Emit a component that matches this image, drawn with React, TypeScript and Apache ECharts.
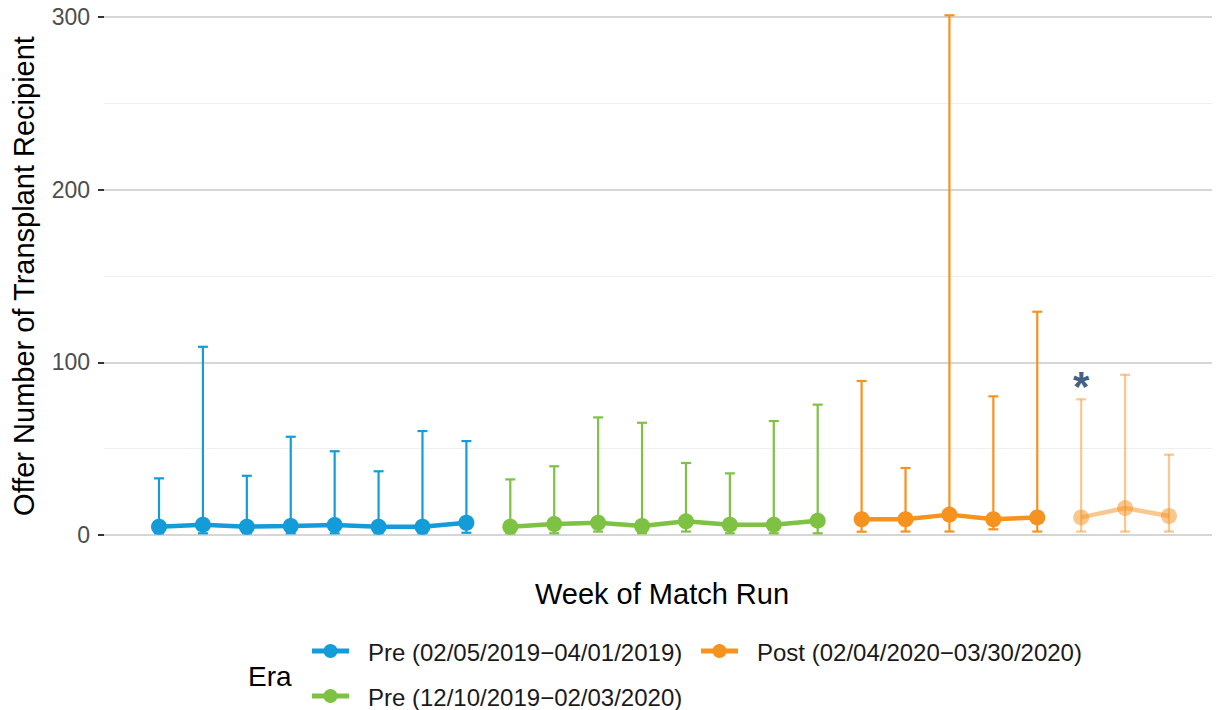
import React, { useEffect, useRef } from "react";
import * as echarts from "echarts";

const blueName = "Pre (02/05/2019\u221204/01/2019)";
const greenName = "Pre (12/10/2019\u221202/03/2020)";
const orangeName = "Post (02/04/2020\u221203/30/2020)";
const lightName = "Post (late)";

const blueWeeks = [1, 2, 3, 4, 5, 6, 7, 8];
const blueMid = [4.8, 6.0, 4.8, 5.2, 5.8, 4.8, 4.8, 7.1];
const blueLow = [1, 1, 1, 1, 1, 1, 1, 1.3];
const blueHigh = [32.8, 109, 34.3, 56.9, 48.5, 36.9, 60.2, 54.4];

const greenWeeks = [9, 10, 11, 12, 13, 14, 15, 16];
const greenMid = [4.8, 6.4, 7.1, 5.2, 7.9, 6.0, 6.0, 8.3];
const greenLow = [1, 1, 2, 1, 2, 1, 1, 1];
const greenHigh = [32.2, 39.8, 68.1, 65.0, 41.7, 35.7, 66.0, 75.5];

const orangeWeeks = [17, 18, 19, 20, 21];
const orangeMid = [9.1, 9.1, 11.8, 9.1, 10.2];
const orangeLow = [1.9, 2, 2, 3.3, 2];
const orangeHigh = [89.2, 38.8, 301, 80.3, 129.3];

const lightWeeks = [22, 23, 24];
const lightMid = [10.2, 15.6, 11.0];
const lightLow = [2, 2, 2];
const lightHigh = [78.6, 92.8, 46.5];

const starWeek = 22;
const starValue = 89;

const yTicks = [0, 100, 200, 300];

const BLUE = "#139cd8";
const GREEN = "#7dc242";
const ORANGE = "#f6921e";
const LIGHT = "rgba(246,146,30,0.5)";

const FONT = "Liberation Sans, Arial, sans-serif";

function errSeries(name: string, weeks: number[], low: number[], high: number[], color: string) {
  return {
    type: "custom",
    name: name + "_err",
    clip: false,
    z: 2,
    data: weeks.map((w, i) => [w, low[i], high[i]]),
    renderItem: (params: any, api: any) => {
      const x = api.value(0);
      const lo = api.coord([x, api.value(1)]);
      const hi = api.coord([x, api.value(2)]);
      const hw = 5;
      const style = { stroke: color, lineWidth: 2.2, fill: "none" };
      return {
        type: "group",
        children: [
          { type: "line", shape: { x1: lo[0], y1: lo[1], x2: hi[0], y2: hi[1] }, style },
          { type: "line", shape: { x1: hi[0] - hw, y1: hi[1], x2: hi[0] + hw, y2: hi[1] }, style },
          { type: "line", shape: { x1: lo[0] - hw, y1: lo[1], x2: lo[0] + hw, y2: lo[1] }, style },
        ],
      };
    },
  };
}

function lineSeries(name: string, weeks: number[], mid: number[], color: string) {
  return {
    type: "line",
    name,
    clip: false,
    z: 3,
    data: weeks.map((w, i) => [w, mid[i]]),
    symbol: "circle",
    symbolSize: 16,
    itemStyle: { color },
    lineStyle: { color, width: 4.5 },
  };
}

function legendKey(x: number, y: number, color: string, label: string) {
  return {
    type: "group",
    children: [
      { type: "line", shape: { x1: x, y1: y, x2: x + 37, y2: y }, style: { stroke: color, lineWidth: 5 } },
      { type: "circle", shape: { cx: x + 18.5, cy: y, r: 7 }, style: { fill: color } },
      {
        type: "text",
        style: {
          text: label,
          x: x + 56,
          y: y + 1,
          align: "left",
          verticalAlign: "middle",
          font: `24px ${FONT}`,
          fill: "#1a1a1a",
        },
      },
    ],
  };
}

export default function App() {
  const ref = useRef<HTMLDivElement>(null);
  useEffect(() => {
    if (!ref.current) return;
    const chart = echarts.init(ref.current, null, { renderer: "svg" });
    chart.setOption({
      animation: false,
      backgroundColor: "#ffffff",
      grid: { left: 104, right: 0, top: 17, height: 518 },
      xAxis: {
        type: "value",
        min: 1 - 55 / 43.91,
        max: 24 + 51 / 43.91,
        name: "Week of Match Run",
        nameLocation: "middle",
        nameGap: 44,
        nameTextStyle: { fontSize: 29, color: "#000", fontFamily: FONT },
        axisLine: { show: false, onZero: false },
        axisTick: { show: false },
        axisLabel: { show: false },
        splitLine: { show: false },
      },
      yAxis: {
        type: "value",
        min: 0,
        max: 300,
        interval: 100,
        name: "Offer Number of Transplant Recipient",
        nameLocation: "middle",
        nameGap: 66,
        nameTextStyle: { fontSize: 29, color: "#000", fontFamily: FONT },
        axisLine: { show: false, onZero: false },
        axisTick: { show: true, length: 6, lineStyle: { color: "#333", width: 2 } },
        axisLabel: {
          fontSize: 23,
          color: "#4d4d4d",
          fontFamily: FONT,
          margin: 14,
          formatter: (v: number) => (yTicks.includes(v) ? String(v) : ""),
        },
        splitLine: { show: true, lineStyle: { color: "#d6d6d6", width: 2 } },
        minorTick: { show: false, splitNumber: 2 },
        minorSplitLine: { show: true, lineStyle: { color: "#efefef", width: 1 } },
      },
      graphic: [
        {
          type: "text",
          style: {
            text: "Era",
            x: 248,
            y: 676,
            align: "left",
            verticalAlign: "middle",
            font: `28px ${FONT}`,
            fill: "#000",
          },
        },
        legendKey(312, 651, BLUE, blueName),
        legendKey(701, 651, ORANGE, orangeName),
        legendKey(312, 696, GREEN, greenName),
      ],
      series: [
        errSeries(blueName, blueWeeks, blueLow, blueHigh, BLUE),
        errSeries(greenName, greenWeeks, greenLow, greenHigh, GREEN),
        errSeries(orangeName, orangeWeeks, orangeLow, orangeHigh, ORANGE),
        errSeries(lightName, lightWeeks, lightLow, lightHigh, LIGHT),
        lineSeries(blueName, blueWeeks, blueMid, BLUE),
        lineSeries(greenName, greenWeeks, greenMid, GREEN),
        lineSeries(orangeName, orangeWeeks, orangeMid, ORANGE),
        lineSeries(lightName, lightWeeks, lightMid, LIGHT),
        {
          type: "scatter",
          name: "star",
          symbol: "circle",
          symbolSize: 1,
          itemStyle: { color: "rgba(0,0,0,0)" },
          z: 5,
          data: [[starWeek, starValue]],
          label: {
            show: true,
            position: "inside",
            formatter: "*",
            fontSize: 42,
            fontWeight: "bold",
            color: "#0f3466",
            fontFamily: FONT,
            offset: [0, 5],
          },
        },
      ],
    });
    return () => chart.dispose();
  }, []);
  return <div ref={ref} style={{ width: 1220, height: 710, marginLeft: -8, marginTop: -8 }} />;
}
